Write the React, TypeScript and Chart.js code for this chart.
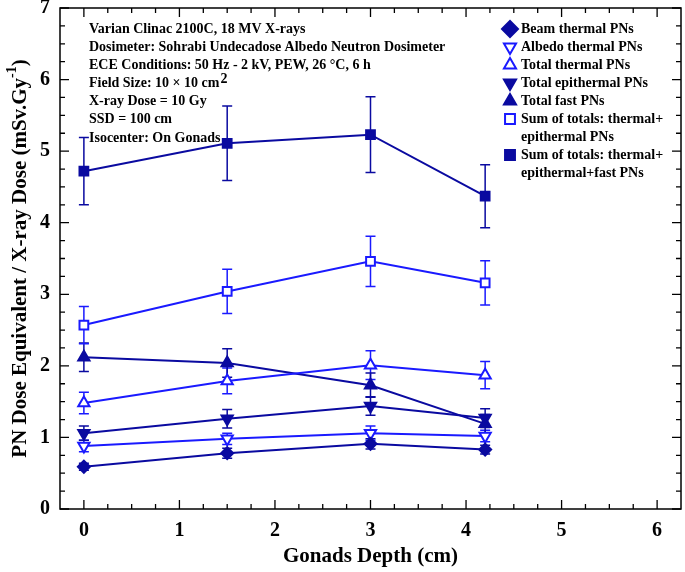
import React, { useEffect, useRef } from "react";
import { Chart, registerables } from "chart.js";
import { drawPoint } from "chart.js/helpers";

Chart.register(...registerables);

const depths = [0, 1.5, 3, 4.2];

const beamThermal = [0.59, 0.78, 0.91, 0.83];
const beamThermalErr = [0.05, 0.07, 0.07, 0.06];
const albedoThermal = [0.88, 0.98, 1.06, 1.02];
const albedoThermalErr = [0.08, 0.08, 0.1, 0.08];
const totalThermal = [1.48, 1.79, 2.01, 1.87];
const totalThermalErr = [0.15, 0.18, 0.2, 0.19];
const totalEpithermal = [1.06, 1.26, 1.44, 1.27];
const totalEpithermalErr = [0.1, 0.13, 0.13, 0.13];
const totalFast = [2.12, 2.04, 1.73, 1.19];
const totalFastErr = [0.2, 0.2, 0.17, 0.13];
const sumThermEpi = [2.57, 3.04, 3.46, 3.16];
const sumThermEpiErr = [0.26, 0.31, 0.35, 0.31];
const sumAll = [4.72, 5.11, 5.23, 4.37];
const sumAllErr = [0.47, 0.52, 0.53, 0.44];

const xTicks = [0, 1, 2, 3, 4, 5, 6];
const yTicks = [0, 1, 2, 3, 4, 5, 6, 7];

const annotations = [
  "Varian Clinac 2100C, 18 MV X-rays",
  "Dosimeter: Sohrabi Undecadose Albedo Neutron Dosimeter",
  "ECE Conditions: 50 Hz - 2 kV, PEW, 26 °C, 6 h",
  "Field Size: 10 × 10 cm",
  "X-ray Dose = 10 Gy",
  "SSD = 100 cm",
  "Isocenter: On Gonads",
];

const DARK = "#0a0aa0";
const BLUE = "#1a1aff";
const FONT = "'Liberation Serif', 'Times New Roman', serif";

type SeriesDef = {
  label: string[];
  values: number[];
  errors: number[];
  color: string;
  style: string;
  rotation: number;
  open: boolean;
  radius: number;
};

const series: SeriesDef[] = [
  { label: ["Beam thermal PNs"], values: beamThermal, errors: beamThermalErr, color: DARK, style: "rectRot", rotation: 0, open: false, radius: 6 },
  { label: ["Albedo thermal PNs"], values: albedoThermal, errors: albedoThermalErr, color: BLUE, style: "triangle", rotation: 180, open: true, radius: 6.5 },
  { label: ["Total thermal PNs"], values: totalThermal, errors: totalThermalErr, color: BLUE, style: "triangle", rotation: 0, open: true, radius: 6.5 },
  { label: ["Total epithermal PNs"], values: totalEpithermal, errors: totalEpithermalErr, color: DARK, style: "triangle", rotation: 180, open: false, radius: 6.5 },
  { label: ["Total fast PNs"], values: totalFast, errors: totalFastErr, color: DARK, style: "triangle", rotation: 0, open: false, radius: 6.5 },
  { label: ["Sum of totals: thermal+", "epithermal PNs"], values: sumThermEpi, errors: sumThermEpiErr, color: BLUE, style: "rect", rotation: 0, open: true, radius: 6.2 },
  { label: ["Sum of totals: thermal+", "epithermal+fast PNs"], values: sumAll, errors: sumAllErr, color: DARK, style: "rect", rotation: 0, open: false, radius: 6.2 },
];

const decorPlugin = {
  id: "decor",
  beforeDatasetsDraw(chart: any) {
    const ctx = chart.ctx;
    const xs = chart.scales.x;
    const ys = chart.scales.y;
    ctx.save();
    series.forEach((s) => {
      ctx.strokeStyle = s.color;
      ctx.lineWidth = 1.5;
      s.values.forEach((v, i) => {
        const px = xs.getPixelForValue(depths[i]);
        const top = ys.getPixelForValue(v + s.errors[i]);
        const bot = ys.getPixelForValue(v - s.errors[i]);
        ctx.beginPath();
        ctx.moveTo(px, top);
        ctx.lineTo(px, bot);
        ctx.moveTo(px - 5, top);
        ctx.lineTo(px + 5, top);
        ctx.moveTo(px - 5, bot);
        ctx.lineTo(px + 5, bot);
        ctx.stroke();
      });
    });
    ctx.restore();
  },
  afterDraw(chart: any) {
    const ctx = chart.ctx;
    const xs = chart.scales.x;
    const ys = chart.scales.y;
    const { left, right, top, bottom } = chart.chartArea;
    ctx.save();
    // frame
    ctx.strokeStyle = "#000";
    ctx.lineWidth = 1.5;
    ctx.strokeRect(left, top, right - left, bottom - top);
    // ticks
    ctx.lineWidth = 1.3;
    for (let v = 0; v <= 6.001; v += 0.25) {
      const px = xs.getPixelForValue(v);
      const major = Math.abs(v - Math.round(v)) < 1e-6;
      const len = major ? 9 : 5;
      ctx.beginPath();
      ctx.moveTo(px, bottom);
      ctx.lineTo(px, bottom - len);
      ctx.moveTo(px, top);
      ctx.lineTo(px, top + len);
      ctx.stroke();
    }
    for (let v = 0; v <= 7.001; v += 0.25) {
      const py = ys.getPixelForValue(v);
      const major = Math.abs(v - Math.round(v)) < 1e-6;
      const len = major ? 9 : 5;
      ctx.beginPath();
      ctx.moveTo(left, py);
      ctx.lineTo(left + len, py);
      ctx.moveTo(right, py);
      ctx.lineTo(right - len, py);
      ctx.stroke();
    }
    // tick labels
    ctx.fillStyle = "#000";
    ctx.font = `bold 20px ${FONT}`;
    ctx.textAlign = "center";
    ctx.textBaseline = "middle";
    xTicks.forEach((v) => {
      ctx.fillText(String(v), xs.getPixelForValue(v), bottom + 22);
    });
    ctx.textAlign = "right";
    yTicks.forEach((v) => {
      ctx.fillText(String(v), left - 10, ys.getPixelForValue(v));
    });
    // y title
    ctx.save();
    ctx.translate(21, (top + bottom) / 2);
    ctx.rotate(-Math.PI / 2);
    const main = "PN Dose Equivalent / X-ray Dose (mSv.Gy";
    ctx.font = `bold 21px ${FONT}`;
    const w1 = ctx.measureText(main).width;
    ctx.font = `bold 14px ${FONT}`;
    const w2 = ctx.measureText("-1").width;
    ctx.font = `bold 21px ${FONT}`;
    const w3 = ctx.measureText(")").width;
    const total = w1 + w2 + w3;
    let x0 = -total / 2;
    ctx.textBaseline = "middle";
    ctx.textAlign = "left";
    ctx.fillText(main, x0, 0);
    x0 += w1;
    ctx.font = `bold 14px ${FONT}`;
    ctx.fillText("-1", x0, -9);
    x0 += w2;
    ctx.font = `bold 21px ${FONT}`;
    ctx.fillText(")", x0, 0);
    ctx.restore();
    // x title
    ctx.font = `bold 21px ${FONT}`;
    ctx.textAlign = "center";
    ctx.textBaseline = "middle";
    ctx.fillText("Gonads Depth (cm)", (left + right) / 2, 557);
    // annotations
    ctx.textAlign = "left";
    const annY = [29, 47, 65, 83, 101, 119, 138];
    annotations.forEach((t, i) => {
      ctx.font = `bold 14px ${FONT}`;
      ctx.fillText(t, 89, annY[i]);
      if (i === 3) {
        const w = ctx.measureText(t).width;
        ctx.fillText("2", 89 + w + 1, annY[i] - 4);
      }
    });
    // legend
    let row = 0;
    series.forEach((s) => {
      const y = 29 + row * 18;
      ctx.lineWidth = 2;
      ctx.strokeStyle = s.color;
      ctx.fillStyle = s.open ? "#fff" : s.color;
      drawPoint(ctx, { pointStyle: s.style, rotation: s.rotation, radius: s.style === "rectRot" ? 8 : 7, borderWidth: 2 } as any, 510, y);
      ctx.fillStyle = "#000";
      ctx.font = `bold 14px ${FONT}`;
      ctx.textAlign = "left";
      ctx.textBaseline = "middle";
      s.label.forEach((ln) => {
        ctx.fillText(ln, 521, 29 + row * 18);
        row++;
      });
    });
    ctx.restore();
  },
};

export default function App() {
  const ref = useRef<HTMLCanvasElement | null>(null);
  useEffect(() => {
    if (!ref.current) return;
    const chart = new Chart(ref.current, {
      type: "line",
      data: {
        datasets: series.map((s) => ({
          label: s.label.join(" "),
          data: s.values.map((v, i) => ({ x: depths[i], y: v })),
          borderColor: s.color,
          borderWidth: 2,
          pointStyle: s.style as any,
          rotation: s.rotation,
          pointRadius: s.radius,
          pointBorderWidth: 2,
          pointBorderColor: s.color,
          pointBackgroundColor: s.open ? "#fff" : s.color,
          tension: 0,
          fill: false,
        })),
      },
      options: {
        animation: false,
        responsive: false,
        layout: { autoPadding: false, padding: { top: 8, right: 4, left: 0, bottom: 0 } },
        plugins: { legend: { display: false }, tooltip: { enabled: false } },
        scales: {
          x: {
            type: "linear",
            min: -0.25,
            max: 6.25,
            afterBuildTicks: (sc: any) => {
              sc.ticks = xTicks.map((v) => ({ value: v }));
            },
            afterFit: (sc: any) => {
              sc.height = 63;
            },
            grid: { display: false, drawTicks: false },
            border: { display: false },
            ticks: { display: false },
          },
          y: {
            type: "linear",
            min: 0,
            max: 7,
            afterBuildTicks: (sc: any) => {
              sc.ticks = yTicks.map((v) => ({ value: v }));
            },
            afterFit: (sc: any) => {
              sc.width = 60;
            },
            grid: { display: false, drawTicks: false },
            border: { display: false },
            ticks: { display: false },
          },
        },
      },
      plugins: [decorPlugin],
    });
    return () => chart.destroy();
  }, []);
  return (
    <div style={{ position: "fixed", left: 0, top: 0, width: 685, height: 572, background: "#fff" }}>
      <canvas ref={ref} width={685} height={572} style={{ width: 685, height: 572, display: "block" }} />
    </div>
  );
}
